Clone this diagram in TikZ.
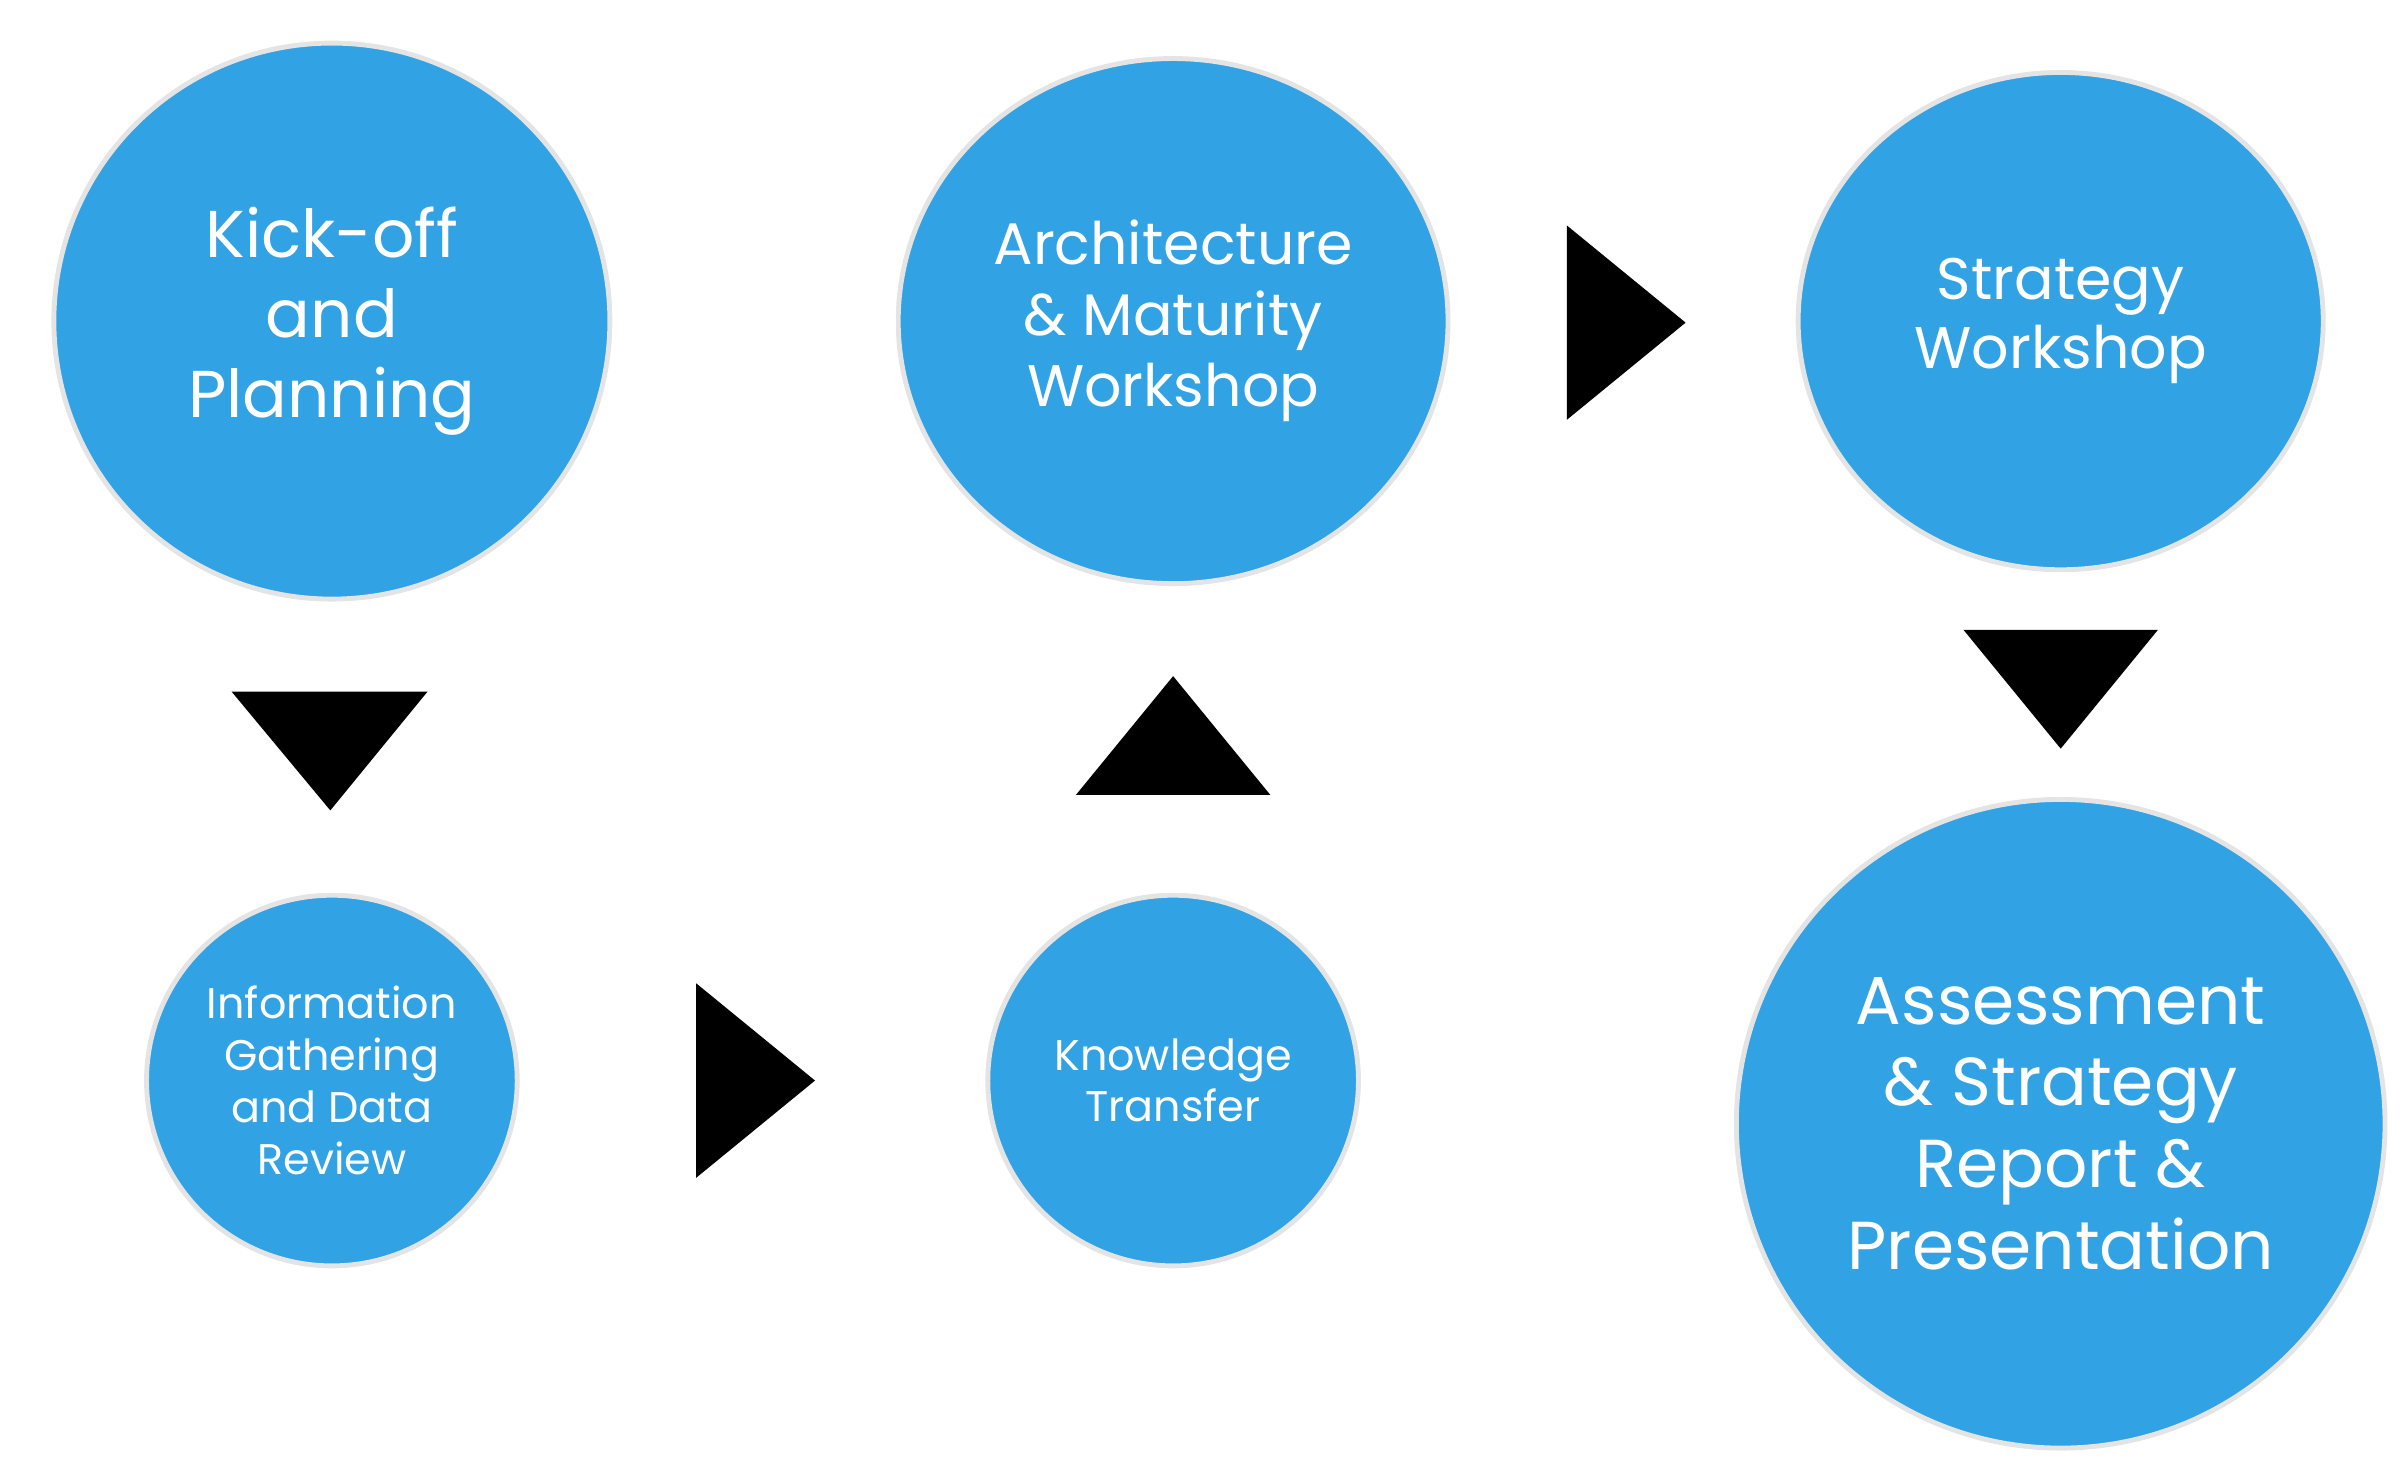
\documentclass[tikz,border=0pt]{standalone}
\usepackage{fontspec}
\setmainfont{Poppins}
\usetikzlibrary{shapes.geometric}
\definecolor{cblue}{HTML}{31A2E4}
\definecolor{cring}{HTML}{E4E4E4}
\begin{document}
\begin{tikzpicture}[x=0.01cm,y=-0.01cm,
  phase/.style={ellipse,fill=cblue,draw=cring,line width=0.9pt,text=white,align=center,inner sep=0pt},
  tri/.style={fill=black,draw=none}]
\useasboundingbox (0,0) rectangle (1560,950);
\node[phase,minimum width=3.6cm,minimum height=3.6cm,font=\fontsize{12.2}{14.8}\selectfont] (k) at (215,208) {Kick-off\\and\\Planning};
\node[phase,minimum width=2.4cm,minimum height=2.4cm,font=\fontsize{7.9}{9.6}\selectfont] (i) at (215,700) {Information\\Gathering\\and Data\\Review};
\node[phase,minimum width=2.4cm,minimum height=2.4cm,font=\fontsize{7.9}{9.4}\selectfont] (t) at (760,700) {Knowledge\\Transfer};
\node[phase,minimum width=3.56cm,minimum height=3.4cm,font=\fontsize{10.8}{13.1}\selectfont] (a) at (760,208) {Architecture\\\& Maturity\\Workshop};
\node[phase,minimum width=3.4cm,minimum height=3.22cm,font=\fontsize{10.8}{12.8}\selectfont] (s) at (1335,208) {Strategy\\Workshop};
\node[phase,minimum width=4.2cm,minimum height=4.2cm,font=\fontsize{12.5}{15.1}\selectfont] (r) at (1335,728) {Assessment\\\& Strategy\\Report \&\\Presentation};
\fill[tri] (150,448) -- (277,448) -- (214,525) -- cycle;
\fill[tri] (451,637) -- (451,763) -- (528,700) -- cycle;
\fill[tri] (697,515) -- (823,515) -- (760,438) -- cycle;
\fill[tri] (1015,146) -- (1015,272) -- (1092,209) -- cycle;
\fill[tri] (1272,408) -- (1398,408) -- (1335,485) -- cycle;
\end{tikzpicture}
\end{document}
